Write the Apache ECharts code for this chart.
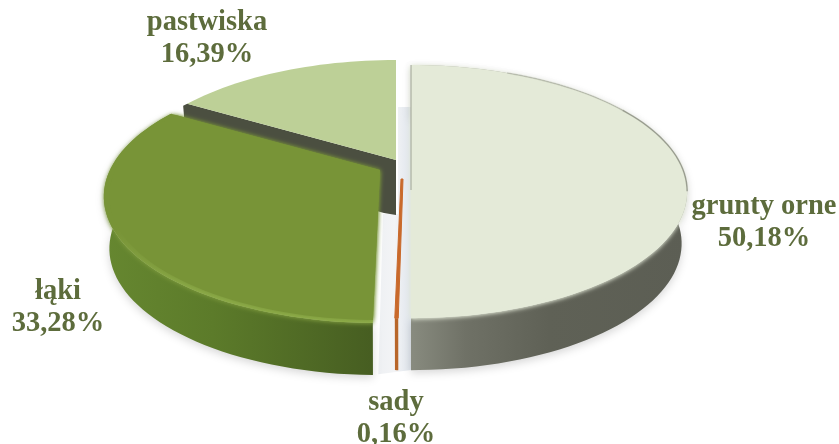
<!DOCTYPE html>
<html><head><meta charset="utf-8">
<style>html,body{margin:0;padding:0;background:#fff}#c{width:839px;height:444px}</style>
<script src="https://cdn.jsdelivr.net/npm/echarts@6/dist/echarts.min.js"></script>
</head><body><div id="c"></div>
<script>
const categories = ['grunty orne', 'sady', 'łąki', 'pastwiska'];
const shares = [50.18, 0.16, 33.28, 16.39];
const shareLabels = ['50,18%', '0,16%', '33,28%', '16,39%'];

// presentation of each slice (same order as categories)
const apexes = [[411, 165], [402, 165], [380, 170], [396, 160]];
const labelSpots = [[764, 223], [396, 419], [58, 308], [207, 39]];
const layers = [30, 20, 20, 0];
const faceBase = ['#e4ead8', '#c9692b', '#789437', '#bdd097'];
const sideStops = [
  [[0, '#888b7f'], [0.2, '#6f7166'], [0.5, '#5f6156'], [1, '#5c5e54']],
  [[0, '#b8662a'], [1, '#b8662a']],
  [[0, '#668730'], [0.4, '#5c7b2a'], [1, '#465d21']],
  [[0, '#4b4f40'], [1, '#4b4f40']]
];
const sideRange = [[411, 687], [394, 403], [104, 376], [180, 400]];
const A = 270, B = 121, K = 0.21, DEPTH = 52;
const total = shares.reduce((a, b) => a + b, 0);

function rim(ap, deg, r) {
  const t = deg * Math.PI / 180, w = 1 + K * Math.cos(t);
  return [ap[0] + A * r * Math.sin(t) / w, ap[1] - B * r * Math.cos(t) / w];
}
function arc(ap, a0, a1, r, minX) {
  const pts = [], n = Math.max(2, Math.ceil(Math.abs(a1 - a0) / 2));
  for (let i = 0; i <= n; i++) {
    const p = rim(ap, a0 + (a1 - a0) * i / n, r);
    if (minX !== undefined) p[0] = Math.max(p[0], minX);
    pts.push(p);
  }
  return pts;
}
function drop(ap, p) { return [ap[0] + (p[0] - ap[0]) * 0.98, p[1] + DEPTH]; }

function renderItem(params, api) {
  const i = params.dataIndex, v = api.value(0);
  let before = 0;
  for (let j = 0; j < i; j++) before += shares[j];
  const a0 = before / total * 360, a1 = (before + v) / total * 360;
  const ap = apexes[i], z = layers[i], kids = [];
  const minX = i === 0 ? ap[0] : undefined;
  const top = arc(ap, a0, a1, 1, minX);

  // backdrop seen through the gap between the pulled-out slices
  if (i === 0) {
    const bL = drop(apexes[2], rim(apexes[2], a1, 1));
    const yTop = apexes[3][1] - 53;
    kids.push({
      type: 'polygon', z2: -5,
      shape: { points: [[apexes[3][0] + 2, yTop], [ap[0], yTop], [ap[0], ap[1] + 205], [bL[0] + 2, bL[1] - 1],
        [apexes[2][0] + 3, apexes[3][1] + DEPTH + 2], [apexes[3][0] + 2, apexes[3][1] + DEPTH + 2]] },
      style: { fill: { type: 'linear', x: 0, y: 0, x2: 1, y2: 0, colorStops: [
        { offset: 0, color: '#eef0f3' }, { offset: 0.5, color: '#f3f4f6' }, { offset: 1, color: '#dfe5ec' }] } }
    });
  }

  // outer wall (the back slice shows only its cut wall)
  if (i !== 3) {
    const bottom = top.map(p => drop(ap, p)).reverse();
    const stops = sideStops[i], range = sideRange[i];
    const sideFill = { type: 'linear', x: range[0], y: 0, x2: range[1], y2: 0, global: true,
      colorStops: stops.map(s => ({ offset: s[0], color: s[1] })) };
    kids.push({
      type: 'polygon', z2: z,
      shape: { points: top.concat(bottom) },
      style: {
        fill: sideFill,
        shadowColor: i === 1 ? 'transparent' : 'rgba(70,70,70,0.22)', shadowBlur: 9, shadowOffsetY: 3
      }
    });
  }

  // cut wall of the back slice
  if (i === 3) {
    const e = rim(ap, a0, 1);
    const el = [e[0] - 4, e[1] + 2];
    kids.push({
      type: 'polygon', z2: z + 1,
      shape: { points: [el, e, ap, [ap[0], ap[1] + DEPTH + 3], [ap[0] - 12, ap[1] + DEPTH + 1], drop(ap, el)] },
      style: { fill: '#4b4f40' }
    });
  }

  // top face
  if (i === 1) {
    kids.push({ type: 'polygon', z2: z + 2,
      shape: { points: [[ap[0] - 1, ap[1] + 14], [ap[0] + 1, ap[1] + 14]].concat(top) },
      style: { fill: faceBase[i], stroke: faceBase[i], lineWidth: 1 } });
  } else if (i === 3) {
    kids.push({ type: 'polygon', z2: z + 2,
      shape: { points: [ap].concat(top) },
      style: { fill: faceBase[i] } });
  } else {
    // rim highlight only on the front of the grass slice
    const rimFill = i === 2
      ? { type: 'linear', x: 0, y: 0, x2: 0, y2: 1, colorStops: [
          { offset: 0, color: faceBase[i] }, { offset: 0.55, color: faceBase[i] },
          { offset: 0.85, color: '#8cab48' }, { offset: 1, color: '#8fae4a' }] }
      : faceBase[i];
    kids.push({ type: 'polygon', z2: z + 2,
      shape: { points: [ap].concat(top) },
      style: { fill: rimFill, shadowColor: i === 2 ? '#7d9a3c' : faceBase[i], shadowBlur: 4, shadowOffsetY: 1 } });
    kids.push({ type: 'polygon', z2: z + 3,
      shape: { points: [ap].concat(arc(ap, a0, a1, 0.98, minX)) },
      style: { fill: faceBase[i], shadowColor: faceBase[i], shadowBlur: 5 } });
  }

  // soft grey rim and spine on the big slice
  if (i === 0) {
    kids.push({ type: 'polyline', z2: z + 4,
      shape: { points: arc(ap, 25, 60, 1) },
      style: { fill: null, stroke: 'rgba(115,118,105,0.3)', lineWidth: 1.5 } });
    kids.push({ type: 'polyline', z2: z + 4,
      shape: { points: arc(ap, 60, 102, 1) },
      style: { fill: null, stroke: 'rgba(115,118,105,0.6)', lineWidth: 1.5 } });
    kids.push({ type: 'polyline', z2: z + 4,
      shape: { points: [rim(ap, 0, 1), [ap[0], ap[1] + 25]] },
      style: { fill: null, stroke: 'rgba(115,118,105,0.6)', lineWidth: 1 } });
  }

  // label
  kids.push({
    type: 'text', z2: 60,
    style: {
      text: api.value(1) + '\n' + shareLabels[i],
      x: labelSpots[i][0], y: labelSpots[i][1],
      align: 'center', verticalAlign: 'middle',
      font: 'bold 28.5px "Liberation Serif"', lineHeight: 32,
      fill: '#5d6c3c'
    }
  });
  return { type: 'group', children: kids };
}

const chart = echarts.init(document.getElementById('c'), null, { renderer: 'canvas' });
chart.setOption({
  animation: false,
  backgroundColor: '#ffffff',
  series: [{
    type: 'custom',
    coordinateSystem: 'none',
    silent: true,
    renderItem: renderItem,
    encode: { value: 0 },
    data: shares.map((s, i) => [s, categories[i]])
  }]
});
</script></body></html>
